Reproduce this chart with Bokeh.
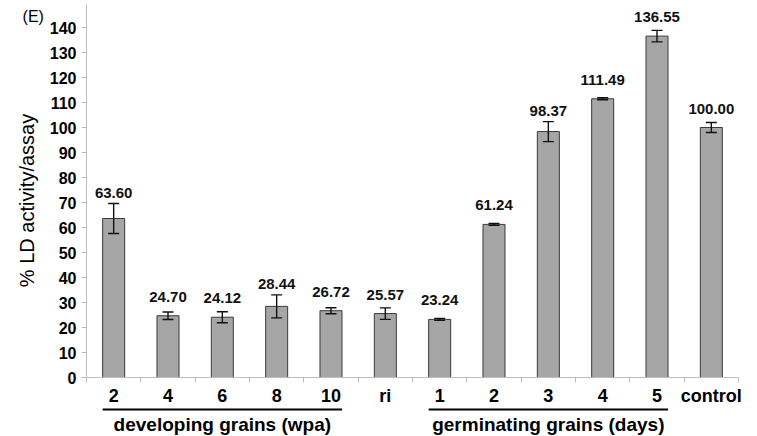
from bokeh.plotting import figure
from bokeh.models import ColumnDataSource, Range1d, FixedTicker, Whisker, TeeHead
from bokeh.core.properties import value
from bokeh.embed import file_html
from bokeh.resources import INLINE

# LD activity per assay, relative to control (%)
categories = ["2", "4", "6", "8", "10", "ri", "1", "2", "3", "4", "5", "control"]
activity = [63.60, 24.70, 24.12, 28.44, 26.72, 25.57, 23.24, 61.24, 98.37, 111.49, 136.55, 100.00]
errors = [6.0, 1.5, 2.2, 4.6, 1.2, 2.3, 0.4, 0.4, 4.0, 0.4, 2.3, 2.0]
y_ticks = list(range(0, 150, 10))

# sample groups: (caption, first index, last index)
group_names = ["developing grains (wpa)", "germinating grains (days)"]
group_first = [0, 6]
group_last = [4, 10]

FONT = "Liberation Sans"
BAR_W = 0.405
PX_PER_UNIT = 2.5  # vertical scale, used to keep value labels a fixed pixel gap above bars

xs = list(range(len(categories)))
labels_y = [max(v + 19 / PX_PER_UNIT, v + e + 11 / PX_PER_UNIT) for v, e in zip(activity, errors)]

src = ColumnDataSource(dict(
    x=xs,
    top=activity,
    upper=[v + e for v, e in zip(activity, errors)],
    lower=[v - e for v, e in zip(activity, errors)],
    label_y=labels_y,
    label=[f"{v:.2f}" for v in activity],
))

p = figure(width=757, height=436, output_backend="svg", toolbar_location=None,
           x_range=Range1d(-0.5, len(categories) - 0.5), y_range=Range1d(0, 149.2),
           min_border_left=86, min_border_right=19, min_border_top=4, min_border_bottom=59)
p.outline_line_color = None
p.xgrid.grid_line_color = None
p.ygrid.grid_line_color = None
p.background_fill_color = "white"

p.vbar(x="x", top="top", width=BAR_W, source=src,
       fill_color="#a6a6a6", line_color="#3a3a3a", line_width=1)

p.add_layout(Whisker(base="x", upper="upper", lower="lower", source=src, level="overlay",
                     line_color="#111111", line_width=1.4,
                     upper_head=TeeHead(size=11, line_width=1.4, line_color="#111111"),
                     lower_head=TeeHead(size=11, line_width=1.4, line_color="#111111")))

p.text(x="x", y="label_y", text="label", source=src,
       text_font=value(FONT), text_font_style="bold", text_font_size="15px",
       text_color="#111111", text_align="center", text_baseline="middle")

# y axis
ya = p.yaxis[0]
ya.ticker = FixedTicker(ticks=y_ticks)
ya.axis_line_color = "#bdbdbd"
ya.major_tick_line_color = "#bdbdbd"
ya.major_tick_out = 5
ya.major_tick_in = 0
ya.minor_tick_line_color = None
ya.major_label_standoff = 5
ya.major_label_text_font = FONT
ya.major_label_text_font_style = "bold"
ya.major_label_text_font_size = "16px"
ya.major_label_text_color = "black"

# x axis: labels at bar centres, tick marks between categories
xa = p.xaxis[0]
xa.ticker = FixedTicker(ticks=xs, minor_ticks=[i - 0.5 for i in range(len(categories) + 1)])
xa.major_label_overrides = {i: c for i, c in enumerate(categories)}
xa.axis_line_color = "#bdbdbd"
xa.major_tick_line_color = None
xa.major_tick_out = 0
xa.major_tick_in = 0
xa.minor_tick_line_color = "#bdbdbd"
xa.minor_tick_out = 5
xa.minor_tick_in = 0
xa.major_label_standoff = 3
xa.major_label_text_font = FONT
xa.major_label_text_font_style = "bold"
xa.major_label_text_font_size = "18px"
xa.major_label_text_color = "black"

# group underlines and captions, drawn below the axis (overlay level is not clipped)
grp = ColumnDataSource(dict(
    x0=[f - BAR_W / 2 for f in group_first],
    x1=[l + BAR_W / 2 for l in group_last],
    xc=[(f + l) / 2 for f, l in zip(group_first, group_last)],
    y_line=[-12.8] * len(group_names),
    y_text=[-18.6] * len(group_names),
    name=group_names,
))
p.segment(x0="x0", y0="y_line", x1="x1", y1="y_line", source=grp,
          line_color="black", line_width=2, level="overlay")
p.text(x="xc", y="y_text", text="name", source=grp, level="overlay",
       text_font=value(FONT), text_font_style="bold", text_font_size="19px",
       text_color="black", text_align="center", text_baseline="middle")

# axis title and panel letter
p.text(x=[-1.586], y=[70.8], text=["% LD activity/assay"], angle=1.5708, level="overlay",
       text_font=value(FONT), text_font_size="20px", text_color="black",
       text_align="center", text_baseline="middle")
p.text(x=[-1.48], y=[144.6], text=["(E)"], level="overlay",
       text_font=value(FONT), text_font_size="16px", text_color="black",
       text_align="center", text_baseline="middle")

open("out.html", "w").write(file_html(p, INLINE))
